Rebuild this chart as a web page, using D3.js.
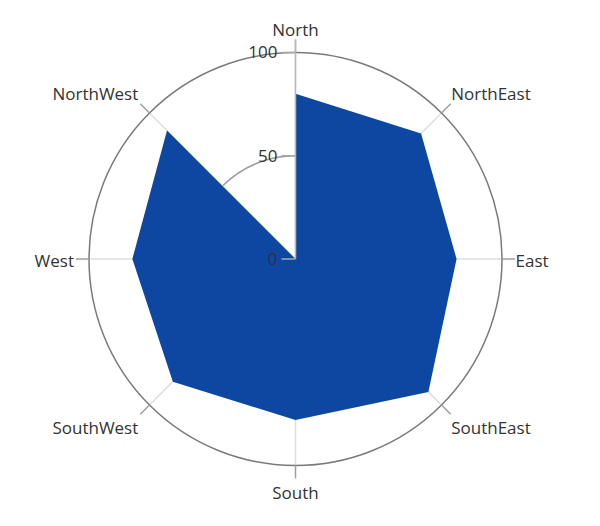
<!DOCTYPE html>
<html>
<head>
<meta charset="utf-8">
<script src="https://cdn.jsdelivr.net/npm/d3@7"></script>
<style>
  html, body { margin: 0; padding: 0; background: #fff; }
  svg { display: block; }
  text { font-family: "Open Sans", "Noto Sans", sans-serif; fill: #333; }
</style>
</head>
<body>
<svg id="chart" width="600" height="526"></svg>
<script>
const categories = ["North", "NorthEast", "East", "SouthEast", "South", "SouthWest", "West", "NorthWest"];
const values = [80, 86, 78, 91, 78, 84, 79, 88];
const radialTicks = [0, 50, 100];
const radialMax = 100;

const width = 600, height = 526;
const cx = 295.5, cy = 259, R = 206.5;

const svg = d3.select("#chart");
const g = svg.append("g").attr("transform", `translate(${cx},${cy})`);

const angle = d3.scaleBand().domain(categories).range([0, 2 * Math.PI]).align(0).paddingInner(0).paddingOuter(0);
const a = c => angle(c);
const r = d3.scaleLinear().domain([0, radialMax]).range([0, R]);

// inner ring (50)
g.append("circle").attr("r", r(50)).attr("fill", "none").attr("stroke", "#9a9a9a").attr("stroke-width", 1.5);

// spokes (inside)
categories.forEach(c => {
  const t = a(c);
  g.append("line")
    .attr("x1", 0).attr("y1", 0)
    .attr("x2", Math.sin(t) * R).attr("y2", -Math.cos(t) * R)
    .attr("stroke", "#dedede").attr("stroke-width", 1.5);
});

// area
const area = d3.areaRadial()
  .angle((d, i) => a(categories[i]))
  .innerRadius(0)
  .outerRadius(d => r(d))
  .curve(d3.curveLinear);
g.append("path").datum(values).attr("d", area).attr("fill", "#0d47a1");

// outer circle
g.append("circle").attr("r", r(100)).attr("fill", "none").attr("stroke", "#7a7a7a").attr("stroke-width", 1.5);

// outer ticks
const tickLen = 13;
categories.forEach(c => {
  const t = a(c);
  g.append("line")
    .attr("x1", Math.sin(t) * R).attr("y1", -Math.cos(t) * R)
    .attr("x2", Math.sin(t) * (R + tickLen)).attr("y2", -Math.cos(t) * (R + tickLen))
    .attr("stroke", "#a0a0a0").attr("stroke-width", 1.5);
});

// radial axis line (north)
g.append("line").attr("x1", 0).attr("y1", 0).attr("x2", 0).attr("y2", -(R + tickLen))
  .attr("stroke", "#b8b8b8").attr("stroke-width", 1.5);

// radial ticks
radialTicks.forEach(v => {
  g.append("line").attr("x1", -14).attr("x2", 0).attr("y1", -r(v)).attr("y2", -r(v))
    .attr("stroke", "#a8a8a8").attr("stroke-width", 1.5);
  g.append("text").attr("x", -18).attr("y", -r(v)).attr("dy", "0.35em")
    .attr("text-anchor", "end").attr("font-size", 17).text(v);
});

// category labels
categories.forEach(c => {
  const t = a(c);
  const s = Math.sin(t), co = -Math.cos(t);
  const px = s * (R + tickLen), py = co * (R + tickLen);
  let anchor = Math.abs(s) < 0.01 ? "middle" : (s > 0 ? "start" : "end");
  let x = px + (s > 0.01 ? 0.5 : (s < -0.01 ? -2 : 0));
  let y;
  if (Math.abs(co) < 0.01) y = py + 7.5;
  else if (co < 0) y = py - 4;
  else y = py + 20;
  g.append("text").attr("x", x).attr("y", y).attr("text-anchor", anchor)
    .attr("font-size", 17).text(c);
});
</script>
</body>
</html>
